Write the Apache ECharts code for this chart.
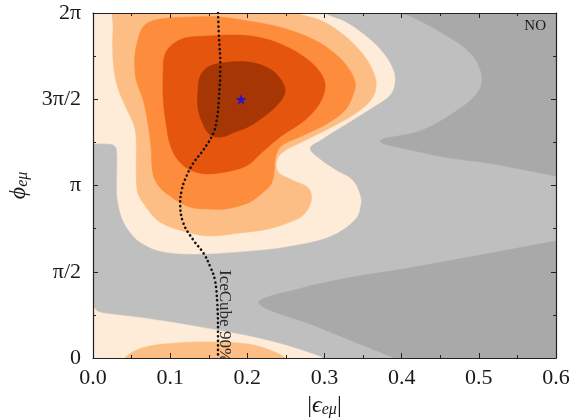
<!DOCTYPE html>
<html><head><meta charset="utf-8">
<script src="https://cdn.jsdelivr.net/npm/echarts@6/dist/echarts.min.js"></script>
<style>html,body{margin:0;padding:0;background:#fff}#c{width:572px;height:419px}</style>
</head><body><div id="c"></div>
<script>
// ---- data (x = |eps_emu|, y = phi_emu in units of pi) ----
const X_TICK_LABELS = ['0.0','0.1','0.2','0.3','0.4','0.5','0.6'];
const Y_TICK_VALUES = [0, 0.5, 1, 1.5, 2];
const Y_TICK_LABELS = ['0', 'π/2', 'π', '3π/2', '2π'];

// contour level regions (superlevel sets)
const GRAY_DARK_UPPER = [[0.39,2.08],[0.62,2.08],[0.62,1.04],[0.60,1.055],[0.511,1.130],[0.463,1.159],[0.424,1.194],[0.372,1.258],[0.424,1.316],[0.467,1.420],[0.498,1.536],[0.504,1.635],[0.489,1.768],[0.446,1.901],[0.411,1.983],[0.40,2.0]];
const GRAY_DARK_LOWER = [[0.215,0.319],[0.266,0.400],[0.330,0.464],[0.402,0.516],[0.502,0.597],[0.60,0.678],[0.62,0.69],[0.62,-0.07],[0.43,-0.07],[0.391,0.0],[0.352,0.070],[0.288,0.186]];
const CREAM_UPPER = [[-0.02,2.08],[0.285,2.08],[0.300,2.0],[0.327,1.948],[0.352,1.872],[0.375,1.774],[0.389,1.670],[0.391,1.594],[0.385,1.525],[0.365,1.461],[0.330,1.362],[0.295,1.264],[0.281,1.217],[0.292,1.159],[0.314,1.090],[0.336,1.032],[0.346,0.945],[0.347,0.893],[0.340,0.806],[0.308,0.707],[0.255,0.649],[0.201,0.620],[0.130,0.603],[0.087,0.620],[0.061,0.672],[0.048,0.730],[0.038,0.806],[0.032,0.916],[0.031,0.997],[0.031,1.206],[0.027,1.235],[0.019,1.242],[0.0,1.242],[-0.02,1.242]];
const CREAM_LOWER = [[-0.02,0.30],[0.0,0.295],[0.006,0.27],[0.022,0.255],[0.065,0.232],[0.130,0.186],[0.201,0.128],[0.244,0.081],[0.281,0.029],[0.297,0.0],[0.31,-0.07],[-0.02,-0.07]];
const LORANGE_UPPER = [[0.031,2.08],[0.235,2.08],[0.264,2.0],[0.294,1.959],[0.320,1.890],[0.343,1.797],[0.359,1.699],[0.367,1.594],[0.362,1.507],[0.343,1.426],[0.307,1.333],[0.268,1.246],[0.248,1.200],[0.238,1.148],[0.240,1.078],[0.258,1.032],[0.279,0.986],[0.283,0.916],[0.275,0.841],[0.262,0.800],[0.227,0.748],[0.190,0.725],[0.152,0.707],[0.126,0.725],[0.100,0.759],[0.083,0.800],[0.067,0.887],[0.058,0.957],[0.056,1.090],[0.056,1.264],[0.053,1.351],[0.043,1.449],[0.031,1.583],[0.026,1.728],[0.026,1.901]];
const LORANGE_LOWER = [[0.03,-0.07],[0.041,0.0],[0.054,0.041],[0.074,0.070],[0.108,0.087],[0.152,0.093],[0.201,0.081],[0.229,0.046],[0.249,0.0],[0.26,-0.07]];
const ORANGE = [[0.058,1.843],[0.067,1.930],[0.087,1.965],[0.126,1.977],[0.165,1.977],[0.201,1.954],[0.236,1.925],[0.266,1.884],[0.292,1.832],[0.311,1.774],[0.329,1.693],[0.340,1.594],[0.336,1.513],[0.327,1.438],[0.307,1.368],[0.288,1.322],[0.262,1.270],[0.244,1.229],[0.237,1.171],[0.235,1.090],[0.233,1.032],[0.229,0.997],[0.218,0.951],[0.201,0.899],[0.172,0.864],[0.148,0.864],[0.130,0.870],[0.113,0.899],[0.100,0.939],[0.087,0.986],[0.078,1.061],[0.075,1.229],[0.071,1.362],[0.065,1.496],[0.056,1.612],[0.054,1.728]];
const DORANGE = [[0.091,1.681],[0.093,1.757],[0.102,1.814],[0.119,1.855],[0.148,1.867],[0.190,1.872],[0.219,1.855],[0.249,1.809],[0.279,1.728],[0.295,1.652],[0.301,1.577],[0.294,1.478],[0.275,1.380],[0.244,1.287],[0.218,1.188],[0.201,1.119],[0.178,1.084],[0.148,1.067],[0.126,1.090],[0.110,1.148],[0.100,1.235],[0.095,1.351],[0.091,1.496]];
const DARKEST = [[0.136,1.554],[0.139,1.635],[0.149,1.687],[0.167,1.710],[0.201,1.716],[0.227,1.681],[0.242,1.623],[0.249,1.548],[0.240,1.472],[0.219,1.391],[0.201,1.339],[0.184,1.310],[0.167,1.281],[0.152,1.293],[0.143,1.351],[0.136,1.449]];

const ICECUBE_90 = [[0.162,2.0],[0.163,1.884],[0.165,1.687],[0.163,1.496],[0.161,1.397],[0.156,1.304],[0.143,1.206],[0.130,1.130],[0.119,1.032],[0.115,0.974],[0.113,0.899],[0.117,0.783],[0.130,0.684],[0.143,0.609],[0.152,0.528],[0.158,0.452],[0.161,0.319],[0.162,0.162],[0.162,0.0]];
const BEST_FIT = [[0.192, 1.5]];
const ICECUBE_LABEL_POS = [[0.171, 0.51]];

// ---- styling ----
const C_BG = '#bfbfbf';
const LAYERS = [
  {poly: GRAY_DARK_UPPER, color: '#a9a9a9'},
  {poly: GRAY_DARK_LOWER, color: '#a9a9a9'},
  {poly: CREAM_UPPER, color: '#feebd8'},
  {poly: CREAM_LOWER, color: '#feebd8'},
  {poly: LORANGE_UPPER, color: '#fdbe85'},
  {poly: LORANGE_LOWER, color: '#fdbe85'},
  {poly: ORANGE, color: '#fd8d3c'},
  {poly: DORANGE, color: '#e6550d'},
  {poly: DARKEST, color: '#a63603'}
];
const SERIF = '"Liberation Serif","DejaVu Serif",serif';
const TXT = '#1a1a1a';

const chart = echarts.init(document.getElementById('c'), null, {renderer: 'canvas'});

const axisCommonX = {
  type: 'value', min: 0, max: 0.6, interval: 0.1,
  axisLine: {show: true, onZero: false, lineStyle: {color: '#222', width: 1.2}},
  axisTick: {show: true, inside: true, length: 5, lineStyle: {color: '#222', width: 1}},
  minorTick: {show: true, splitNumber: 2, length: 3, lineStyle: {color: '#222', width: 1}},
  splitLine: {show: false}, minorSplitLine: {show: false}, z: 10
};
const axisCommonY = {
  type: 'value', min: 0, max: 2, interval: 0.5,
  axisLine: {show: true, onZero: false, lineStyle: {color: '#222', width: 1.2}},
  axisTick: {show: true, inside: true, length: 5, lineStyle: {color: '#222', width: 1}},
  minorTick: {show: true, splitNumber: 2, length: 3, lineStyle: {color: '#222', width: 1}},
  splitLine: {show: false}, minorSplitLine: {show: false}, z: 10
};

const nameRich = {
  i: {fontFamily: SERIF, fontSize: 24, fontStyle: 'italic', color: TXT, lineHeight: 24, verticalAlign: 'top'},
  s: {fontFamily: SERIF, fontSize: 16, fontStyle: 'italic', color: TXT, lineHeight: 8, verticalAlign: 'bottom'}
};

const option = {
  animation: false,
  backgroundColor: '#fff',
  title: {text: 'NO', right: 21, top: 14, textStyle: {fontFamily: SERIF, fontSize: 15, fontWeight: 'normal', color: TXT}},
  grid: {left: 93, right: 16, top: 13, bottom: 61, show: true, backgroundColor: C_BG, borderWidth: 0,
         containLabel: false, outerBoundsMode: 'none'},
  xAxis: [
    Object.assign({}, axisCommonX, {
      position: 'bottom',
      axisLabel: {show: true, margin: 9, fontFamily: SERIF, fontSize: 22, color: TXT,
        formatter: v => X_TICK_LABELS[Math.round(v * 10)]},
      name: '|{i|ϵ}{s|eμ}|', nameLocation: 'middle', nameGap: 36,
      nameTextStyle: {fontFamily: SERIF, fontSize: 24, color: TXT, rich: nameRich}
    }),
    Object.assign({}, axisCommonX, {position: 'top', axisLabel: {show: false}})
  ],
  yAxis: [
    Object.assign({}, axisCommonY, {
      position: 'left',
      axisLabel: {show: true, margin: 12, fontFamily: SERIF, fontSize: 22, color: TXT,
        formatter: v => { const i = Y_TICK_VALUES.indexOf(Math.round(v * 2) / 2); return i >= 0 ? Y_TICK_LABELS[i] : ''; }},
      name: '{i|ϕ}{s|eμ}', nameLocation: 'middle', nameGap: 58, nameRotate: 90,
      nameTextStyle: {fontFamily: SERIF, fontSize: 24, color: TXT, rich: nameRich}
    }),
    Object.assign({}, axisCommonY, {position: 'right', axisLabel: {show: false}})
  ],
  series: [
    {
      type: 'custom', xAxisIndex: 0, yAxisIndex: 0, clip: true, z: 1, silent: true,
      data: LAYERS.map(() => [0.3, 1]),
      renderItem: function (params, api) {
        const layer = LAYERS[params.dataIndex];
        return {
          type: 'polygon',
          shape: {points: layer.poly.map(p => api.coord(p)), smooth: 0.35},
          style: {fill: layer.color, stroke: layer.color, lineWidth: 0.5}
        };
      }
    },
    {
      type: 'line', xAxisIndex: 0, yAxisIndex: 0, data: ICECUBE_90, smooth: 0.4,
      showSymbol: false, z: 3, clip: true,
      lineStyle: {color: '#111', width: 2.6, type: [0.1, 4.4], cap: 'round'}
    },
    {
      type: 'custom', xAxisIndex: 0, yAxisIndex: 0, clip: true, z: 4, silent: true,
      data: ICECUBE_LABEL_POS,
      renderItem: function (params, api) {
        const p = api.coord([api.value(0), api.value(1)]);
        return {
          type: 'text', x: p[0], y: p[1], rotation: -Math.PI / 2,
          style: {text: 'IceCube 90%', fill: '#2a2a2a', fontFamily: SERIF, fontSize: 17, align: 'left', verticalAlign: 'middle'}
        };
      }
    },
    {
      type: 'scatter', xAxisIndex: 0, yAxisIndex: 0, data: BEST_FIT, z: 5,
      symbol: 'path://M50,0 L61,35 L98,35 L68,57 L79,91 L50,70 L21,91 L32,57 L2,35 L39,35 Z',
      symbolSize: 11, itemStyle: {color: '#0a0aff'}
    }
  ]
};
chart.setOption(option);
</script></body></html>
